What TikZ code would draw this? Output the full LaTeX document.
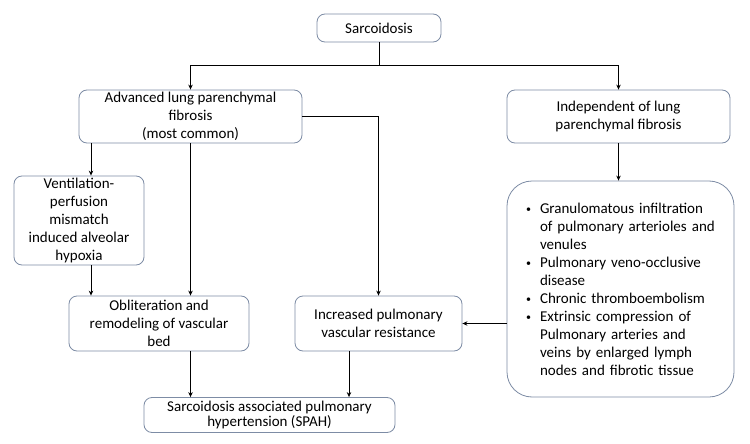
\documentclass[tikz,border=0pt]{standalone}
\usepackage{fontspec}
\setmainfont{Carlito}
\usetikzlibrary{arrows.meta}
\definecolor{boxline}{RGB}{125,140,165}
\newcommand{\bul}{\makebox[15pt][l]{\hspace{1pt}\raisebox{0.5pt}{\fontsize{10}{18}\selectfont •}}}
\begin{document}
\begin{tikzpicture}[x=1pt,y=-1pt,
  box/.style={draw=boxline, line width=0.8pt, rounded corners=8pt, align=center,
    inner sep=0pt, font=\fontsize{15}{18}\selectfont},
  conn/.style={line width=1pt, black},
  arr/.style={conn, -{Stealth[length=5pt,width=4.5pt]}}]
\useasboundingbox (0,0) rectangle (750,444);
\fill[white] (0,0) rectangle (750,444);

\node[box, minimum width=124pt, minimum height=28pt] (sarc) at (379,28) {Sarcoidosis};
\node[box, minimum width=223pt, minimum height=53pt] (adv) at (190.5,116.5)
  {Advanced lung parenchymal\\fibrosis\\(most common)};
\node[box, minimum width=223pt, minimum height=53pt] (indep) at (618.5,116.5)
  {Independent of lung\\parenchymal fibrosis};
\node[box, minimum width=130pt, minimum height=89pt] (vent) at (79,220.5)
  {Ventilation-\\perfusion\\mismatch\\induced alveolar\\hypoxia};
\node[box, minimum width=180pt, minimum height=55pt] (obl) at (159,323.5)
  {Obliteration and\\remodeling of vascular\\bed};
\node[box, minimum width=167pt, minimum height=55pt] (inc) at (378.5,323.5)
  {Increased pulmonary\\vascular resistance};
\node[box, minimum width=251pt, minimum height=35pt, font=\fontsize{15}{15}\selectfont] (spah) at (269.5,415)
  {Sarcoidosis associated pulmonary\\hypertension (SPAH)};
\node[box, rounded corners=25pt, text width=191pt, inner xsep=18pt, minimum height=216pt, align=left] (gran) at (620.5,289)
  {\bul Granulomatous infiltration\\
   \hspace*{15pt}of pulmonary arterioles and\\
   \hspace*{15pt}venules\\
   \bul Pulmonary veno-occlusive\\
   \hspace*{15pt}disease\\
   \bul Chronic thromboembolism\\
   \bul Extrinsic compression of\\
   \hspace*{15pt}Pulmonary arteries and\\
   \hspace*{15pt}veins by enlarged lymph\\
   \hspace*{15pt}nodes and fibrotic tissue};

\coordinate (j) at (379,66);
\coordinate (xv) at (91,0);
\coordinate (xi) at (349,0);

\draw[conn] (sarc.south) -- (j);
\draw[arr] (j) -| (adv.north);
\draw[arr] (j) -| (indep.north);
\draw[arr] (indep.south) -- (indep.south |- gran.north);
\draw[arr] (adv.south -| xv) -- (vent.north -| xv);
\draw[arr] (adv.south) -- (adv.south |- obl.north);
\draw[arr] (adv.east) -| (inc.north);
\draw[arr] (vent.south -| xv) -- (obl.north -| xv);
\draw[arr] (gran.west |- inc.east) -- (inc.east);
\draw[arr] (adv.south |- obl.south) -- (adv.south |- spah.north);
\draw[arr] (inc.south -| xi) -- (spah.north -| xi);
\end{tikzpicture}
\end{document}
